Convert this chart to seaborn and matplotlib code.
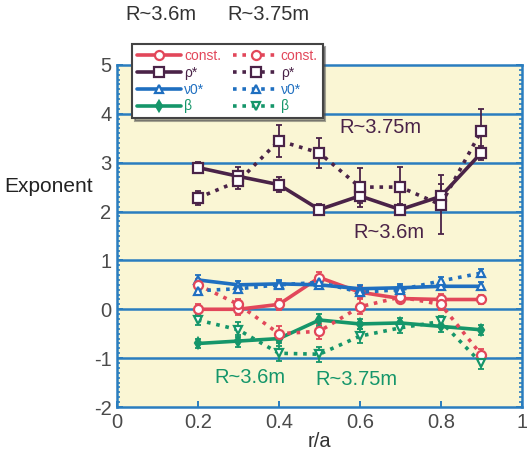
import matplotlib
matplotlib.use("Agg")
import matplotlib.pyplot as plt
from matplotlib.lines import Line2D
from matplotlib.ticker import MultipleLocator, FixedLocator, FixedFormatter
import numpy as np
import pandas as pd
import seaborn as sns

# radial positions
r_over_a = [0.2, 0.3, 0.4, 0.5, 0.6, 0.7, 0.8, 0.9]

# exponents at R~3.6m (solid) and R~3.75m (dotted)
const_36 = [0.0, 0.0, 0.1, 0.65, 0.35, 0.22, 0.2, 0.2]
const_375 = [0.5, 0.1, -0.5, -0.45, 0.05, 0.25, 0.1, -0.93]
rho_36 = [2.9, 2.72, 2.55, 2.04, 2.32, 2.04, 2.31, 3.2]
rho_375 = [2.28, 2.62, 3.45, 3.2, 2.5, 2.5, 2.14, 3.65]
nu_36 = [0.6, 0.5, 0.52, 0.5, 0.42, 0.44, 0.47, 0.47]
nu_375 = [0.38, 0.42, 0.5, 0.55, 0.35, 0.4, 0.58, 0.74]
beta_36 = [-0.7, -0.65, -0.6, -0.22, -0.3, -0.28, -0.35, -0.42]
beta_375 = [-0.22, -0.42, -0.9, -0.92, -0.55, -0.38, -0.25, -1.1]

# uncertainties
const_36_err = [0.1, 0.12, 0.12, 0.12, 0.12, 0.1, 0.12, 0.1]
const_375_err = [0.12, 0.1, 0.15, 0.15, 0.15, 0.12, 0.12, 0.12]
rho_36_err = [0.12, 0.2, 0.15, 0.12, 0.15, 0.12, 0.25, 0.15]
rho_375_err = [0.15, 0.15, 0.33, 0.3, 0.4, 0.42, 0.6, 0.45]
nu_36_err = [0.1, 0.08, 0.08, 0.08, 0.08, 0.08, 0.08, 0.08]
nu_375_err = [0.08, 0.08, 0.08, 0.1, 0.08, 0.08, 0.08, 0.08]
beta_36_err = [0.1, 0.12, 0.1, 0.12, 0.1, 0.1, 0.12, 0.1]
beta_375_err = [0.1, 0.15, 0.15, 0.15, 0.15, 0.1, 0.12, 0.12]

labels = ["const.", "\u03c1*", "\u03bd0*", "\u03b2"]
x_ticks = [0, 0.2, 0.4, 0.6, 0.8, 1]
x_tick_labels = ["0", "0.2", "0.4", "0.6", "0.8", "1"]
y_ticks = [-2, -1, 0, 1, 2, 3, 4, 5]
y_tick_labels = ["-2", "-1", "0", "1", "2", "3", "4", "5"]

sns.set_style("ticks")
plt.rcParams["font.family"] = ["Liberation Sans", "DejaVu Sans"]
plt.rcParams["axes.unicode_minus"] = False

RED = "#e2475a"
PURPLE = "#4a2348"
BLUE = "#1f6fc0"
GREEN = "#15966a"
AXBLUE = "#2a7dbf"
FS = 14.5

fig = plt.figure(figsize=(5.27, 4.54), dpi=100)
fig.patch.set_facecolor("white")
ax = fig.add_axes([0.222, 0.1035, 0.768, 0.7535])
ax.set_facecolor("#faf6d4")

series = [
    (const_36, const_36_err, RED, "o", "solid", 6.5, "white"),
    (rho_36, rho_36_err, PURPLE, "s", "solid", 7, "white"),
    (nu_36, nu_36_err, BLUE, "^", "solid", 6, "white"),
    (beta_36, beta_36_err, GREEN, "d", "solid", 5, GREEN),
    (const_375, const_375_err, RED, "o", (0, (1, 1.6)), 6.5, "white"),
    (rho_375, rho_375_err, PURPLE, "s", (0, (1, 1.6)), 7, "white"),
    (nu_375, nu_375_err, BLUE, "^", (0, (1, 1.6)), 6, "white"),
    (beta_375, beta_375_err, GREEN, "v", (0, (1, 1.6)), 6, "white"),
]

for vals, errs, col, mk, ls, ms, fc in series:
    df = pd.DataFrame({"r": r_over_a, "v": vals})
    ax.errorbar(df["r"], df["v"], yerr=errs, fmt="none", ecolor=col,
                elinewidth=1.3, capsize=2.5, capthick=1.3, zorder=3)
    sns.lineplot(data=df, x="r", y="v", ax=ax, color=col, linestyle=ls,
                 linewidth=2.6, marker=mk, markersize=ms,
                 markerfacecolor=fc, markeredgecolor=col,
                 markeredgewidth=1.6, zorder=4)

ax.set_xlim(0, 1)
ax.set_ylim(-2, 5)
ax.xaxis.set_major_locator(FixedLocator(x_ticks))
ax.xaxis.set_major_formatter(FixedFormatter(x_tick_labels))
ax.yaxis.set_major_locator(FixedLocator(y_ticks))
ax.yaxis.set_major_formatter(FixedFormatter(y_tick_labels))
ax.yaxis.set_minor_locator(MultipleLocator(0.1))
ax.tick_params(axis="both", which="major", direction="in", length=4,
               color=AXBLUE, width=1.4, labelsize=FS, labelcolor="#4a4a4a",
               right=True, pad=4)
ax.tick_params(axis="y", which="minor", direction="in", length=2.5,
               color=AXBLUE, width=1.2, right=True)

for y in range(-1, 5):
    ax.axhline(y, color=AXBLUE, linewidth=1.8, zorder=1)
for sp in ax.spines.values():
    sp.set_color(AXBLUE)
    sp.set_linewidth(1.8)

ax.set_xlabel("r/a", fontsize=FS, color="#333333", labelpad=0)
ax.set_ylabel("Exponent", fontsize=15, color="#222222", rotation=0)
ax.yaxis.label.set_ha("center")
ax.yaxis.label.set_va("center")
ax.yaxis.set_label_coords(-0.17, 0.645)

ax.text(0.55, 3.6, "R~3.75m", fontsize=FS, color=PURPLE, zorder=5)
ax.text(0.585, 1.45, "R~3.6m", fontsize=FS, color=PURPLE, zorder=5)
ax.text(0.24, -1.5, "R~3.6m", fontsize=FS, color=GREEN, zorder=5)
ax.text(0.49, -1.55, "R~3.75m", fontsize=FS, color=GREEN, zorder=5)

fig.text(0.237, 0.955, "R~3.6m", fontsize=FS, color="#333333")
fig.text(0.432, 0.955, "R~3.75m", fontsize=FS, color="#333333")

# two-column key: solid lines for R~3.6m, dotted lines for R~3.75m
handles = []
for vals, errs, col, mk, ls, ms, fc in series:
    handles.append(Line2D([], [], color=col, linestyle=ls, linewidth=2.6,
                          marker=mk, markersize=ms, markerfacecolor=fc,
                          markeredgecolor=col, markeredgewidth=1.6))
leg = fig.legend(handles, labels + labels, ncol=2, loc="upper left",
                 bbox_to_anchor=(0.237, 0.918), fontsize=10,
                 frameon=True, fancybox=False, shadow=True,
                 edgecolor="#444444", handlelength=3.2, handletextpad=0.2,
                 columnspacing=0.9, labelspacing=0.2, borderpad=0.35)
leg.get_frame().set_linewidth(1.5)
leg.set_zorder(10)
for txt, h in zip(leg.get_texts(), handles):
    txt.set_color(h.get_color())

fig.savefig("out.png", dpi=100)
